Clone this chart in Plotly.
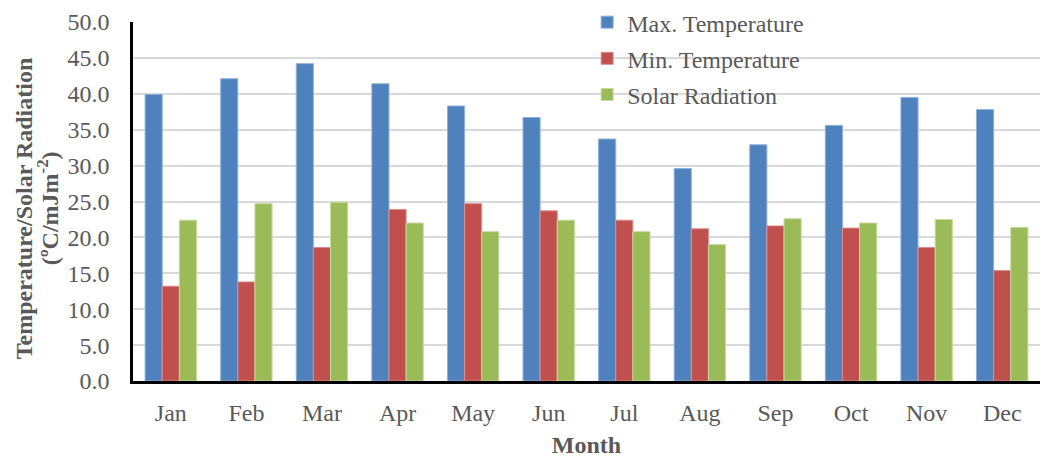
import plotly.graph_objects as go

months = ["Jan", "Feb", "Mar", "Apr", "May", "Jun", "Jul", "Aug", "Sep", "Oct", "Nov", "Dec"]
max_temp = [39.9, 42.1, 44.2, 41.4, 38.3, 36.7, 33.7, 29.6, 32.9, 35.6, 39.5, 37.8]
min_temp = [13.2, 13.8, 18.6, 23.9, 24.7, 23.7, 22.4, 21.2, 21.6, 21.3, 18.6, 15.4]
solar_rad = [22.4, 24.7, 24.9, 22.0, 20.8, 22.4, 20.8, 19.0, 22.6, 22.0, 22.5, 21.4]
y_ticks = [0, 5, 10, 15, 20, 25, 30, 35, 40, 45, 50]
y_tick_labels = ["0.0", "5.0", "10.0", "15.0", "20.0", "25.0", "30.0", "35.0", "40.0", "45.0", "50.0"]
y_title_lines = ["<b>Temperature/Solar Radiation</b>", "<b>(ºC/mJm<sup>-2</sup>)</b>"]

font_family = "Liberation Serif"
grey = "#595959"

fig = go.Figure()
for name, vals, color, lc in [
    ("Max. Temperature", max_temp, "#4F81BD", "#8EB1DC"),
    ("Min. Temperature", min_temp, "#C0504D", "#DC8F8D"),
    ("Solar Radiation", solar_rad, "#9BBB59", "#C6DA9C"),
]:
    fig.add_trace(go.Bar(x=months, y=vals, name=name, legendgroup=name,
                         marker=dict(color=color, line=dict(color=lc, width=1))))

for txt, xp in zip(y_title_lines, [-0.1202, -0.0937]):
    fig.add_annotation(text=txt, xref="paper", yref="paper", x=xp, y=0.481,
                       xanchor="center", yanchor="middle", textangle=-90, showarrow=False,
                       font=dict(size=24, color=grey, family=font_family))

fig.update_layout(
    width=1048, height=457,
    barmode="group", bargap=0.32, bargroupgap=0,
    margin=dict(l=125, r=16, t=14, b=84, autoexpand=False),
    paper_bgcolor="white", plot_bgcolor="white",
    font=dict(family=font_family, color=grey),
    showlegend=True,
    legend=dict(x=0.5007, y=1.0612, xanchor="left", yanchor="top",
                bgcolor="rgba(0,0,0,0)", font=dict(size=24, color=grey, family=font_family),
                itemwidth=30, traceorder="grouped", tracegroupgap=2),
    xaxis=dict(showline=True, linecolor="black", linewidth=3, automargin=False,
               ticks="outside", ticklen=8, tickcolor="rgba(0,0,0,0)",
               tickfont=dict(size=24, color=grey, family=font_family),
               title=dict(text="<b>Month</b>", font=dict(size=24, color=grey, family=font_family), standoff=12)),
    yaxis=dict(range=[0, 50], tickmode="array", tickvals=y_ticks, ticktext=y_tick_labels,
               showline=True, linecolor="black", linewidth=2.5,
               automargin=False,
               showgrid=True, gridcolor="#D9D9D9", gridwidth=2,
               ticks="outside", ticklen=16, tickcolor="rgba(0,0,0,0)",
               tickfont=dict(size=24, color=grey, family=font_family)),
)

fig.write_html("out.html")
